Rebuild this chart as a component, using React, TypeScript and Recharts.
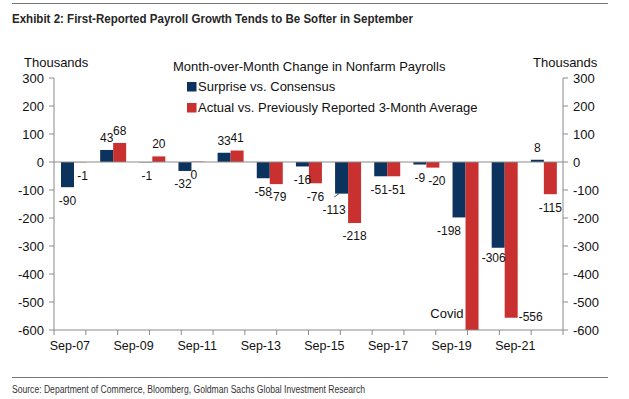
import React from 'react';
import { BarChart, LineChart, Line, Bar, XAxis, YAxis, ReferenceLine, LabelList } from 'recharts';

// Hidden bar categories (first-reported September prints)
const categories = ['Sep-10', 'Sep-11', 'Sep-12', 'Sep-13', 'Sep-14', 'Sep-15', 'Sep-16', 'Sep-17', 'Sep-18', 'Sep-19', 'Sep-20', 'Sep-21', 'Sep-22'];
const surpriseVsConsensus = [-90, 43, -1, -32, 33, -58, -16, -113, -51, -9, -198, -306, 8];
const actualVsPrev3mAvg = [-1, 68, 20, 0, 41, -79, -76, -218, -51, -20, -600, -556, -115];
const barNotes = ['', '', '', '', '', '', '', '', '', '', 'Covid', '', ''];

const yTicks = [-600, -500, -400, -300, -200, -100, 0, 100, 200, 300];
// Date axis drawn under the bars: yearly tick marks, a label every other year
const xTickLabels = ['Sep-07', 'Sep-09', 'Sep-11', 'Sep-13', 'Sep-15', 'Sep-17', 'Sep-19', 'Sep-21'];
const dateAxisYears = 16;

const NAVY = '#0c325e';
const RED = '#c8312f';
const AXIS = '#8a8a8a';
const FONT = '"Liberation Sans", Arial, Helvetica, sans-serif';

const data = categories.map((cat, i) => ({
  i,
  cat,
  surprise: surpriseVsConsensus[i],
  actual: actualVsPrev3mAvg[i],
}));

const yearTicks = Array.from({ length: dateAxisYears + 1 }, (_, i) => i);
const labelTicks = xTickLabels.map((_, i) => 0.5 + 2 * i);
const dateTicks = [...yearTicks, ...labelTicks].sort((a, b) => a - b);
const dateRows = yearTicks.map((t) => ({ t }));

type Nudge = { dx?: number; dy?: number; side?: boolean; leader?: boolean };
const nudges: Record<string, Nudge> = {
  'surprise-3': { dx: -2 },
  'actual-3': { dx: -4 },
  'actual-0': { dx: 2 },
  'surprise-2': { dx: 1 },
  'actual-5': { dx: 1.5 },
  'surprise-7': { dx: -7.5, dy: 3.5, leader: true },
  'surprise-8': { dx: -1.5 },
  'actual-8': { dx: 3 },
  'actual-9': { dx: 4 },
  'surprise-10': { dx: -10 },
  'surprise-11': { dx: -4.5, dy: -2.5 },
  'actual-11': { side: true },
};

function makeLabel(series: 'surprise' | 'actual') {
  return (props: any) => {
    const vb = props.viewBox || {};
    const [idxStr, valStr] = String(props.value).split('|');
    const index = Number(idxStr);
    const value = Number(valStr);
    const x = Number(props.x ?? vb.x);
    const y = Number(props.y ?? vb.y);
    const w = Number(props.width ?? vb.width);
    const h = Number(props.height ?? vb.height);
    const top = Math.min(y, y + h);
    const bottom = Math.max(y, y + h);
    const cx = x + w / 2;
    const note = series === 'actual' ? barNotes[index] : '';
    if (note) {
      return (
        <text x={x - 2} y={bottom - 12.3} textAnchor="end" fontSize={13} fill="#111" fontFamily={FONT}>
          {note}
        </text>
      );
    }
    const n = nudges[`${series}-${index}`] || {};
    if (n.side) {
      return (
        <text x={x + w + 1} y={bottom + 3.8} textAnchor="start" fontSize={12} fill="#111" fontFamily={FONT}>
          {value}
        </text>
      );
    }
    const base = value > 0 ? top - 12.5 : (value === 0 ? Math.max(top, bottom) : bottom) + 13;
    const centerY = base + (n.dy || 0);
    const tx = cx + (n.dx || 0);
    return (
      <g>
        {n.leader && <line x1={x + 4} y1={bottom} x2={x - 1} y2={bottom + 3.5} stroke="#333" strokeWidth={0.8} />}
        <text x={tx} y={centerY + 4.3} textAnchor="middle" fontSize={12} fill="#111" fontFamily={FONT}>
          {value}
        </text>
      </g>
    );
  };
}

const DateTick = (props: any) => {
  const { x, y, payload } = props;
  const v = Number(payload?.value);
  if (Number.isInteger(v)) {
    return <line x1={x} y1={y} x2={x} y2={y + 5} stroke={AXIS} strokeWidth={1} />;
  }
  const label = xTickLabels[Math.round((v - 0.5) / 2)] ?? '';
  return (
    <text x={x} y={y + 19.5} textAnchor="middle" fontSize={12.5} fill="#111" fontFamily={FONT}>
      {label}
    </text>
  );
};

export default function App() {
  const tickStyle = { fontSize: 13, fill: '#111', fontFamily: FONT };
  const zeroFloor = (v: number) => (v === 0 ? 0.4 : 0);
  return (
    <div style={{ position: 'absolute', left: 0, top: 0, width: 629, height: 399, background: '#fff', fontFamily: FONT, overflow: 'hidden' }}>
      <div style={{ position: 'absolute', left: 0, top: 0 }}>
        <BarChart width={629} height={399} data={data} margin={{ top: 78, right: 0, bottom: 69, left: 0 }} barGap={0}>
          <XAxis xAxisId="cat" dataKey="cat" hide />
          <YAxis
            yAxisId="left"
            domain={[-600, 300]}
            ticks={yTicks}
            interval={0}
            allowDataOverflow
            width={54}
            tickSize={5}
            tickMargin={5}
            axisLine={{ stroke: AXIS }}
            tickLine={{ stroke: AXIS }}
            tick={tickStyle}
          />
          <YAxis
            yAxisId="right"
            orientation="right"
            domain={[-600, 300]}
            ticks={yTicks}
            interval={0}
            allowDataOverflow
            width={66}
            tickSize={5}
            tickMargin={5}
            axisLine={{ stroke: AXIS }}
            tickLine={{ stroke: AXIS }}
            tick={tickStyle}
          />
          <ReferenceLine y={0} yAxisId="left" xAxisId="cat" stroke={AXIS} strokeWidth={1} />
          <Bar dataKey="surprise" xAxisId="cat" yAxisId="left" fill={NAVY} barSize={13} minPointSize={zeroFloor} isAnimationActive={false}>
            <LabelList dataKey={(d: any) => `${d.i}|${d.surprise}`} content={makeLabel('surprise')} />
          </Bar>
          <Bar dataKey="actual" xAxisId="cat" yAxisId="left" fill={RED} barSize={13} minPointSize={zeroFloor} isAnimationActive={false}>
            <LabelList dataKey={(d: any) => `${d.i}|${d.actual}`} content={makeLabel('actual')} />
          </Bar>
        </BarChart>
      </div>
      <div style={{ position: 'absolute', left: 0, top: 0, pointerEvents: 'none' }}>
        <LineChart width={629} height={399} data={dateRows} margin={{ top: 78, right: 66, bottom: 0, left: 54 }}>
          <XAxis
            dataKey="t"
            type="number"
            domain={[0, dateAxisYears]}
            allowDataOverflow
            ticks={dateTicks}
            interval={0}
            height={69}
            tickSize={0}
            tickMargin={0}
            tickLine={false}
            axisLine={{ stroke: AXIS }}
            tick={<DateTick />}
          />
          <YAxis hide domain={[0, 1]} />
          <Line dataKey={() => 0} stroke="none" dot={false} isAnimationActive={false} />
        </LineChart>
      </div>
      <svg width={629} height={399} style={{ position: 'absolute', left: 0, top: 0, pointerEvents: 'none' }}>
        <line x1={12} y1={3.5} x2={608} y2={3.5} stroke="#777" strokeWidth={1} />
        <text x={12} y={23} fontSize={13} fontWeight="bold" fill="#262626" fontFamily={FONT} textLength={401} lengthAdjust="spacingAndGlyphs">
          Exhibit 2: First-Reported Payroll Growth Tends to Be Softer in September
        </text>
        <text x={24} y={67} fontSize={13} fill="#111" fontFamily={FONT}>Thousands</text>
        <text x={533} y={67} fontSize={13} fill="#111" fontFamily={FONT}>Thousands</text>
        <text x={173} y={71} fontSize={13} fill="#111" fontFamily={FONT}>Month-over-Month Change in Nonfarm Payrolls</text>
        <rect x={187} y={82} width={9.5} height={9.5} fill={NAVY} />
        <text x={198} y={91} fontSize={13} fill="#111" fontFamily={FONT}>Surprise vs. Consensus</text>
        <rect x={187} y={103} width={9.5} height={9.5} fill={RED} />
        <text x={198} y={112} fontSize={13} fill="#111" fontFamily={FONT}>Actual vs. Previously Reported 3-Month Average</text>
        <line x1={12} y1={377.5} x2={608} y2={377.5} stroke="#777" strokeWidth={1} />
        <text x={12} y={392.5} fontSize={10} fill="#333" fontFamily={FONT} textLength={353} lengthAdjust="spacingAndGlyphs">
          Source: Department of Commerce, Bloomberg, Goldman Sachs Global Investment Research
        </text>
      </svg>
    </div>
  );
}
